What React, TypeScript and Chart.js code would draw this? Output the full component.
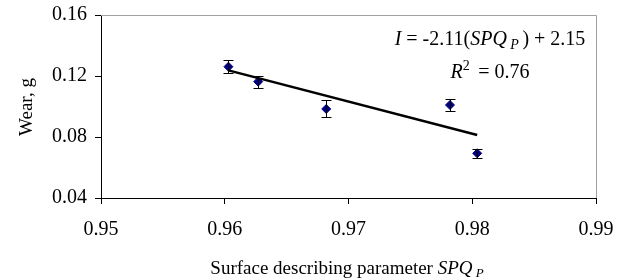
import React, { useEffect, useRef } from "react";
import { Chart, registerables } from "chart.js";

Chart.register(...registerables);

const xValues = [0.9603, 0.9627, 0.9682, 0.9782, 0.9804];
const yValues = [0.1261, 0.1163, 0.0984, 0.1010, 0.0693];
const yErrors = [0.0041, 0.0040, 0.0056, 0.0039, 0.0028];
const trendX = [0.9603, 0.9804];
const trendY = [0.1237, 0.0813];
const xTicks = [0.95, 0.96, 0.97, 0.98, 0.99];
const yTicks = [0.04, 0.08, 0.12, 0.16];

const FONT = "'Liberation Serif', 'Times New Roman', serif";

type Seg = { t: string; italic?: boolean; sub?: boolean; sup?: boolean };

function drawSegs(ctx: CanvasRenderingContext2D, segs: Seg[], cx: number, baseline: number, size: number) {
  const fontFor = (s: Seg) => {
    const sz = s.sub || s.sup ? Math.round(size * 0.68) : size;
    return `${s.italic ? "italic " : ""}${sz}px ${FONT}`;
  };
  let total = 0;
  const widths = segs.map((s) => {
    ctx.font = fontFor(s);
    const w = ctx.measureText(s.t).width;
    total += w;
    return w;
  });
  let x = cx - total / 2;
  ctx.textAlign = "left";
  ctx.textBaseline = "alphabetic";
  segs.forEach((s, i) => {
    ctx.font = fontFor(s);
    let y = baseline;
    if (s.sub) y += size * 0.18;
    if (s.sup) y -= size * 0.38;
    ctx.fillText(s.t, x, y);
    x += widths[i];
  });
}

const decorPlugin = {
  id: "decor",
  afterDatasetsDraw(chart: any) {
    const ctx = chart.ctx as CanvasRenderingContext2D;
    const xs = chart.scales.x;
    const ys = chart.scales.y;
    const area = chart.chartArea;
    ctx.save();
    // error bars
    ctx.strokeStyle = "#000";
    ctx.lineWidth = 1;
    for (let i = 0; i < xValues.length; i++) {
      const px = Math.round(xs.getPixelForValue(xValues[i])) + 0.5;
      const top = Math.round(ys.getPixelForValue(yValues[i] + yErrors[i])) + 0.5;
      const bot = Math.round(ys.getPixelForValue(yValues[i] - yErrors[i])) + 0.5;
      ctx.beginPath();
      ctx.moveTo(px, top);
      ctx.lineTo(px, bot);
      ctx.moveTo(px - 5, top);
      ctx.lineTo(px + 5, top);
      ctx.moveTo(px - 5, bot);
      ctx.lineTo(px + 5, bot);
      ctx.stroke();
    }
    // top and right frame
    ctx.strokeStyle = "#a0a0a0";
    ctx.beginPath();
    ctx.moveTo(area.left, Math.round(area.top) + 0.5);
    ctx.lineTo(Math.round(area.right) + 0.5, Math.round(area.top) + 0.5);
    ctx.lineTo(Math.round(area.right) + 0.5, area.bottom);
    ctx.stroke();
    ctx.fillStyle = "#000";
    // equation
    drawSegs(ctx, [
      { t: "I", italic: true },
      { t: " = -2.11(" },
      { t: "SPQ", italic: true },
      { t: " P ", italic: true, sub: true },
      { t: ") + 2.15" },
    ], 490, 45, 20);
    drawSegs(ctx, [
      { t: "R", italic: true },
      { t: "2 ", sup: true },
      { t: " = 0.76" },
    ], 490, 78, 20);
    // x axis title
    drawSegs(ctx, [
      { t: "Surface describing parameter " },
      { t: "SPQ", italic: true },
      { t: " P", italic: true, sub: true },
    ], 347, 274, 19);
    // y axis title
    ctx.translate(32, 107);
    ctx.rotate(-Math.PI / 2);
    drawSegs(ctx, [{ t: "Wear, g" }], 0, 0, 19);
    ctx.restore();
  },
};

export default function App() {
  const ref = useRef<HTMLCanvasElement>(null);
  useEffect(() => {
    if (!ref.current) return;
    const chart = new Chart(ref.current, {
      type: "scatter",
      data: {
        datasets: [
          {
            type: "line",
            data: trendX.map((x, i) => ({ x, y: trendY[i] })),
            borderColor: "#000",
            borderWidth: 2.5,
            pointRadius: 0,
            fill: false,
          } as any,
          {
            data: xValues.map((x, i) => ({ x, y: yValues[i] })),
            pointStyle: "rectRot",
            pointRadius: 4.5,
            backgroundColor: "#000080",
            borderColor: "#000080",
            borderWidth: 1,
          },
        ],
      },
      options: {
        responsive: false,
        animation: false,
        layout: { padding: { left: 0, top: 15, right: 28, bottom: 0 } },
        plugins: { legend: { display: false }, tooltip: { enabled: false } },
        scales: {
          x: {
            type: "linear",
            min: 0.95,
            max: 0.99,
            afterBuildTicks: (s: any) => { s.ticks = xTicks.map((v) => ({ value: v })); },
            afterFit: (s: any) => { s.height = 82; s.paddingLeft = 0; s.paddingRight = 0; },
            ticks: {
              font: { family: FONT, size: 20 },
              color: "#000",
              padding: 14,
              maxRotation: 0,
              callback: (v: any) => Number(v).toFixed(2),
            },
            grid: { drawOnChartArea: false, tickLength: 6, color: "#000" },
            border: { color: "#000", width: 1 },
          },
          y: {
            type: "linear",
            min: 0.04,
            max: 0.16,
            afterBuildTicks: (s: any) => { s.ticks = yTicks.map((v) => ({ value: v })); },
            afterFit: (s: any) => { s.width = 101; s.paddingTop = 0; s.paddingBottom = 0; },
            ticks: {
              font: { family: FONT, size: 20 },
              color: "#000",
              padding: 8,
              callback: (v: any) => Number(v).toFixed(2),
            },
            grid: { drawOnChartArea: false, tickLength: 6, color: "#000" },
            border: { color: "#000", width: 1 },
          },
        },
      },
      plugins: [decorPlugin],
    });
    return () => chart.destroy();
  }, []);
  return (
    <div style={{ position: "fixed", left: 0, top: 0, width: 624, height: 280, background: "#fff" }}>
      <canvas ref={ref} width={624} height={280} />
    </div>
  );
}
